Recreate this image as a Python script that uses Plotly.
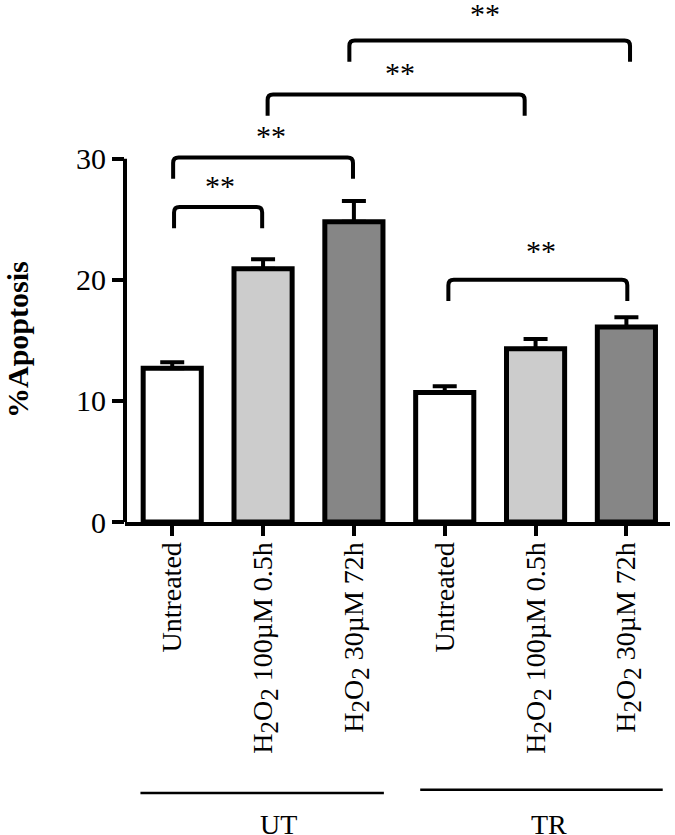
import plotly.graph_objects as go

# ---- data ----
SUB2 = '<sub><span style="font-size:25px">2</span></sub>'
tick_labels = ["Untreated",
               f"H{SUB2}O{SUB2} 100µM 0.5h",
               f"H{SUB2}O{SUB2} 30µM 72h",
               "Untreated",
               f"H{SUB2}O{SUB2} 100µM 0.5h",
               f"H{SUB2}O{SUB2} 30µM 72h"]
apoptosis = [12.7, 20.9, 24.8, 10.7, 14.3, 16.1]
sem = [0.5, 0.8, 1.7, 0.5, 0.8, 0.8]
bar_colors = ["#ffffff", "#cccccc", "#868686", "#ffffff", "#cccccc", "#868686"]
y_ticks = [0, 10, 20, 30]

# significance brackets: (left x, right x, bracket top y, star x, star y, label)
brackets = [
    (0.02, 0.99, 26.0, 0.53, 27.8, "**"),
    (0.01, 1.99, 30.1, 1.09, 31.9, "**"),
    (1.05, 3.88, 35.3, 2.51, 37.1, "**"),
    (1.95, 5.04, 39.75, 3.44, 41.95, "**"),
    (3.04, 5.01, 20.0, 4.06, 22.4, "**"),
]
# group labels: (label, line start x, line end x, line y paper, label x)
groups = [
    ("UT", -0.35, 2.33, -0.519, 1.17),
    ("TR", 2.73, 5.40, -0.513, 4.15),
]

FONT = "Liberation Serif"
x = list(range(len(apoptosis)))

fig = go.Figure()
fig.add_trace(go.Bar(
    x=x, y=apoptosis, width=0.64,
    marker=dict(color=bar_colors, line=dict(color="black", width=5)),
    error_y=dict(type="data", symmetric=False, array=sem,
                 arrayminus=[0] * len(sem), color="black",
                 thickness=4, width=12),
    showlegend=False,
))

shapes = []
# y axis line only from 0 to 30
shapes.append(dict(type="line", xref="paper", yref="y", x0=0, x1=0,
                   y0=0, y1=max(y_ticks), line=dict(color="black", width=4)))

leg = 1.75
rx, ry = 0.06, 0.45
for (xl, xr, yt, sx, sy, lab) in brackets:
    yb = yt - leg
    path = (f"M {xl},{yb} L {xl},{yt-ry} Q {xl},{yt} {xl+rx},{yt} "
            f"L {xr-rx},{yt} Q {xr},{yt} {xr},{yt-ry} L {xr},{yb}")
    shapes.append(dict(type="path", xref="x", yref="y", path=path,
                       line=dict(color="black", width=4)))

annotations = []
for (xl, xr, yt, sx, sy, lab) in brackets:
    annotations.append(dict(x=sx, y=sy, xref="x", yref="y", text=lab,
                            showarrow=False, font=dict(family=FONT, size=30, color="black"),
                            xanchor="center", yanchor="middle"))

for (lab, x0, x1, ly, lx) in groups:
    shapes.append(dict(type="line", xref="x", yref="paper", x0=x0, x1=x1,
                       y0=ly, y1=ly, line=dict(color="black", width=2.5)))
    annotations.append(dict(x=lx, y=-0.579, xref="x", yref="paper", text=lab,
                            showarrow=False, font=dict(family=FONT, size=28, color="black"),
                            xanchor="center", yanchor="middle"))

annotations.append(dict(x=-0.196, y=0.349, xref="paper", yref="paper",
                        text="<b>%Apoptosis</b>", textangle=-90, showarrow=False,
                        font=dict(family=FONT, size=30, color="black"),
                        xanchor="center", yanchor="middle"))

fig.update_layout(
    width=675, height=835,
    margin=dict(l=125, r=5, t=0, b=313),
    paper_bgcolor="white", plot_bgcolor="white",
    shapes=shapes, annotations=annotations,
    xaxis=dict(range=[-0.52, 5.48], tickmode="array", tickvals=x,
               ticktext=tick_labels, tickangle=-90,
               showline=True, linecolor="black", linewidth=4,
               ticks="outside", ticklen=10, tickwidth=4, tickcolor="black",
               ticklabelstandoff=-5,
               showgrid=False, zeroline=False,
               tickfont=dict(family=FONT, size=28, color="black")),
    yaxis=dict(range=[0, 43.1], tickmode="array", tickvals=y_ticks,
               showline=False, ticks="outside", ticklen=12, tickwidth=4,
               tickcolor="black", showgrid=False, zeroline=False,
               tickfont=dict(family=FONT, size=30, color="black")),
)

fig.write_html("out.html", config={"staticPlot": True, "displayModeBar": False},
               post_script="document.body.style.margin='0';document.body.style.overflow='hidden';")
